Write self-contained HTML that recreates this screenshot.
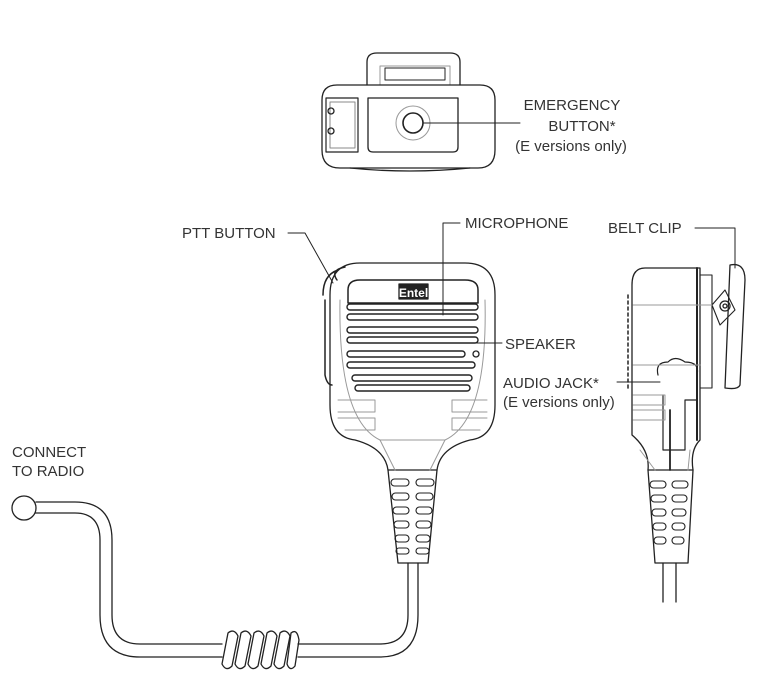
<!DOCTYPE html>
<html><head><meta charset="utf-8"><style>
html,body{margin:0;padding:0;background:#fff;}
svg{display:block;}
text{font-family:"Liberation Sans",sans-serif;font-size:15px;fill:#333;}
</style></head><body>
<svg width="779" height="678" viewBox="0 0 779 678" xmlns="http://www.w3.org/2000/svg">
<g fill="none" stroke="#222" stroke-width="1.3" stroke-linecap="round" stroke-linejoin="round">
<!-- TOP VIEW -->
<path d="M367 85 V62 Q367 53 377 53 H450 Q460 53 460 62 V85"/>
<path d="M380 85 V66 H450 V85" stroke="#999" stroke-width="1"/>
<rect x="385" y="68" width="60" height="12" stroke-width="1"/>
<path d="M337 85 H480 Q495 85 495 100 V150 Q495 168 478 168 H340 Q322 168 322 150 V100 Q322 85 337 85 Z"/>
<path d="M326 98 H358 V152 H326 Z" stroke-width="1.2"/>
<path d="M330 102 H355 V148 H330 Z" stroke="#888" stroke-width="1"/>
<circle cx="331" cy="111" r="3"/><circle cx="331" cy="131" r="3"/>
<path d="M368 98 H458 V147 Q458 152 453 152 H373 Q368 152 368 147 Z"/>
<path d="M350 168 Q410 174 470 168" />
<circle cx="413" cy="123" r="17" stroke="#999" stroke-width="1"/>
<circle cx="413" cy="123" r="10" stroke-width="1.6"/>
<line x1="423" y1="123" x2="520" y2="123" stroke-width="1"/>
<!-- MAIN MIC BODY -->
<path d="M360 263 H465 Q495 263 495 295 V405 Q495 437 470 440 Q440 448 437 470 H388 Q385 448 355 440 Q330 437 330 405 V295 Q330 263 360 263 Z"/>
<path d="M337 280 Q330 270 345 267 M325 300 V375 Q327 385 332 385" stroke-width="1.5"/>
<path d="M323 295 Q323 275 338 270" stroke-width="1.5"/>
<path d="M348 303 V290 Q348 280 360 280 H465 Q478 280 478 290 V303 Z" stroke-width="1.5"/>
<rect x="399" y="284" width="29" height="15" fill="#222"/>
<text x="413.5" y="297" text-anchor="middle" style="font-size:12px;fill:#fff;font-weight:bold;stroke:none">Entel</text>
<g stroke-width="1.4">
<rect x="347" y="304" width="131" height="6" rx="3"/>
<rect x="347" y="314" width="131" height="6" rx="3"/>
<rect x="347" y="327" width="131" height="6" rx="3"/>
<rect x="347" y="337" width="131" height="6" rx="3"/>
<rect x="347" y="351" width="118" height="6" rx="3"/>
<rect x="347" y="362" width="128" height="6" rx="3"/>
<rect x="352" y="375" width="120" height="6" rx="3"/>
<rect x="355" y="385" width="115" height="6" rx="3"/>
</g>
<circle cx="476" cy="354" r="3"/>
<g stroke="#999" stroke-width="1">
<path d="M338 400 H375 V412 H338 M338 418 H375 V430 H345"/>
<path d="M487 400 H452 V412 H487 M487 418 H452 V430 H480"/>
<path d="M340 300 Q338 420 380 440 H445 Q488 420 485 300"/>
<path d="M380 440 L395 470 M445 440 L430 470"/>
</g>
<!-- strain relief -->
<path d="M388 470 L398 563 H428 L437 470"/>
<g stroke-width="1.1">
<rect x="391" y="479" width="18" height="7" rx="3.5"/><rect x="416" y="479" width="18" height="7" rx="3.5"/>
<rect x="392" y="493" width="17" height="7" rx="3.5"/><rect x="416" y="493" width="17" height="7" rx="3.5"/>
<rect x="393" y="507" width="16" height="7" rx="3.5"/><rect x="416" y="507" width="16" height="7" rx="3.5"/>
<rect x="394" y="521" width="15" height="7" rx="3.5"/><rect x="416" y="521" width="15" height="7" rx="3.5"/>
<rect x="395" y="535" width="14" height="7" rx="3.5"/><rect x="416" y="535" width="14" height="7" rx="3.5"/>
<rect x="396" y="548" width="13" height="6" rx="3"/><rect x="416" y="548" width="13" height="6" rx="3"/>
</g>
<!-- CORD -->
<circle cx="24" cy="508" r="12"/>
<path d="M36 502 H75 Q112 502 112 540 V615 Q112 644 140 644 H222 M298 644 H380 Q408 644 408 615 V563"/>
<path d="M35 513 H75 Q100 513 100 540 V615 Q100 657 140 657 H222 M298 657 H380 Q418 657 418 615 V563"/>
<g stroke-width="1.3">
<path d="M228 633 Q234 628 238 636 L232 666 Q226 672 222 664 Z"/>
<path d="M241 633 Q247 628 251 636 L245 666 Q239 672 235 664 Z"/>
<path d="M254 633 Q260 628 264 636 L258 666 Q252 672 248 664 Z"/>
<path d="M267 633 Q273 628 277 636 L271 666 Q265 672 261 664 Z"/>
<path d="M280 633 Q286 628 290 636 L284 666 Q278 672 274 664 Z"/>
<path d="M291 633 Q297 628 299 640 L295 666 Q290 672 287 664 Z"/>
</g>
<!-- SIDE VIEW -->
<path d="M645 268 H700 V440 Q690 450 693 470 H648 Q650 450 632 435 V285 Q632 268 645 268 Z"/>
<line x1="697" y1="268" x2="697" y2="440" stroke-width="2"/>
<path d="M700 275 H712 V388 H700" stroke-width="1.1"/>
<path d="M730 265 Q745 262 745 280 L740 385 Q738 390 725 388 Z"/>
<path d="M712 305 L725 290 L735 310 L720 325 Z" stroke-width="1.1"/>
<circle cx="725" cy="306" r="5"/><circle cx="725" cy="306" r="2"/>
<path d="M658 375 Q655 362 668 362 Q675 355 685 362 Q700 362 697 375 V440 M663 395 V450 H685 V400 H697" stroke-width="1.2"/>
<path d="M628 295 V390" stroke-dasharray="3 3" stroke-width="1.5"/>
<g stroke="#999" stroke-width="1">
<line x1="633" y1="305" x2="712" y2="305"/>
<line x1="633" y1="365" x2="700" y2="365"/>
<path d="M633 395 H665 V405 H633 M633 410 H665 V420 H633"/>
<path d="M640 450 L655 470 M690 450 L688 470"/>
</g>
<line x1="670" y1="410" x2="670" y2="470" stroke-width="1.8"/>
<path d="M648 470 L655 563 H688 L693 470"/>
<g stroke-width="1.1">
<rect x="650" y="481" width="16" height="7" rx="3.5"/><rect x="672" y="481" width="16" height="7" rx="3.5"/>
<rect x="651" y="495" width="15" height="7" rx="3.5"/><rect x="672" y="495" width="15" height="7" rx="3.5"/>
<rect x="652" y="509" width="14" height="7" rx="3.5"/><rect x="672" y="509" width="14" height="7" rx="3.5"/>
<rect x="653" y="523" width="13" height="7" rx="3.5"/><rect x="672" y="523" width="13" height="7" rx="3.5"/>
<rect x="654" y="537" width="12" height="7" rx="3.5"/><rect x="672" y="537" width="12" height="7" rx="3.5"/>
</g>
<line x1="663" y1="563" x2="663" y2="602"/><line x1="676" y1="563" x2="676" y2="602"/>
<!-- leaders -->
<g stroke-width="1">
<path d="M288 233 H305 L333 283"/>
<path d="M460 223 H443 V315"/>
<path d="M450 343 H502"/>
<path d="M617 382 H660"/>
<path d="M695 228 H735 V268"/>
</g>
</g>
<text x="572" y="110" text-anchor="middle">EMERGENCY</text>
<text x="582" y="131" text-anchor="middle">BUTTON*</text>
<text x="571" y="151" text-anchor="middle">(E versions only)</text>
<text x="182" y="238">PTT BUTTON</text>
<text x="465" y="228">MICROPHONE</text>
<text x="608" y="233">BELT CLIP</text>
<text x="505" y="349">SPEAKER</text>
<text x="503" y="388">AUDIO JACK*</text>
<text x="503" y="407">(E versions only)</text>
<text x="12" y="457">CONNECT</text>
<text x="12" y="476">TO RADIO</text>
</svg>
</body></html>
